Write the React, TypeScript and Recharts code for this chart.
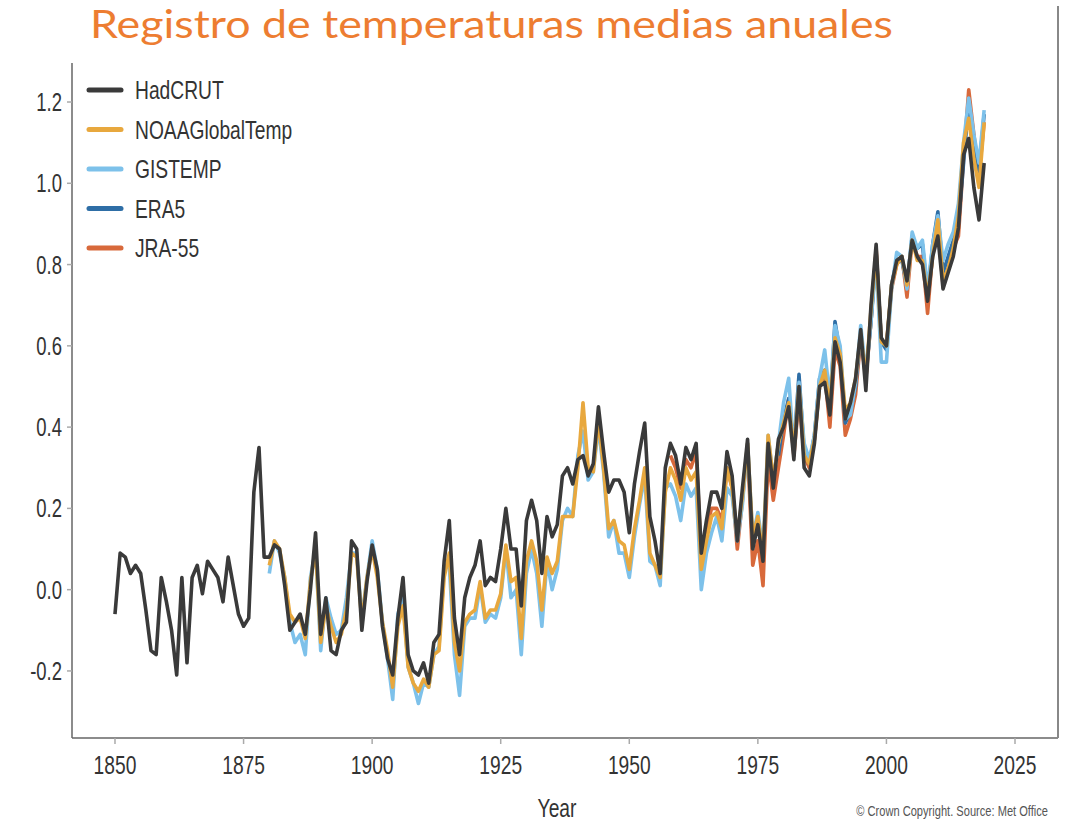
import React from 'react';
import { LineChart, Line, XAxis, YAxis } from 'recharts';

// Annual global mean temperature anomalies (°C, relative to 1850-1900)
const HADCRUT_START = 1850;
const HADCRUT = [
  -0.06, 0.09, 0.08, 0.04, 0.06, 0.04, -0.05, -0.15, -0.16, 0.03,
  -0.03, -0.10, -0.21, 0.03, -0.18, 0.03, 0.06, -0.01, 0.07, 0.05,
  0.03, -0.03, 0.08, 0.01, -0.06, -0.09, -0.07, 0.24, 0.35, 0.08,
  0.08, 0.11, 0.10, 0.01, -0.10, -0.08, -0.06, -0.11, 0.00, 0.14,
  -0.11, -0.02, -0.15, -0.16, -0.10, -0.08, 0.12, 0.10, -0.10, 0.02,
  0.11, 0.05, -0.09, -0.17, -0.21, -0.07, 0.03, -0.16, -0.20, -0.21,
  -0.18, -0.23, -0.13, -0.11, 0.07, 0.17, -0.07, -0.16, -0.02, 0.03,
  0.06, 0.12, 0.01, 0.03, 0.02, 0.10, 0.20, 0.10, 0.10, -0.04,
  0.17, 0.22, 0.17, 0.04, 0.18, 0.13, 0.16, 0.28, 0.30, 0.26,
  0.32, 0.33, 0.28, 0.31, 0.45, 0.34, 0.24, 0.27, 0.27, 0.24,
  0.14, 0.26, 0.34, 0.41, 0.18, 0.12, 0.04, 0.30, 0.36, 0.33,
  0.26, 0.35, 0.32, 0.36, 0.09, 0.17, 0.24, 0.24, 0.20, 0.34,
  0.28, 0.12, 0.25, 0.37, 0.10, 0.16, 0.07, 0.36, 0.25, 0.37,
  0.40, 0.45, 0.32, 0.50, 0.30, 0.28, 0.36, 0.50, 0.51, 0.43,
  0.61, 0.56, 0.42, 0.46, 0.52, 0.64, 0.49, 0.70, 0.85, 0.62,
  0.60, 0.75, 0.81, 0.82, 0.76, 0.86, 0.82, 0.80, 0.71, 0.82,
  0.87, 0.74, 0.78, 0.82, 0.89, 1.07, 1.11, 0.99, 0.91, 1.05,
];

const NOAA_START = 1880;
const NOAA = [
  0.06, 0.12, 0.10, 0.03, -0.06, -0.08, -0.07, -0.12, 0.02, 0.10,
  -0.13, -0.04, -0.09, -0.13, -0.11, -0.05, 0.09, 0.08, -0.08, 0.03,
  0.10, 0.03, -0.08, -0.15, -0.24, -0.09, -0.04, -0.19, -0.23, -0.25,
  -0.22, -0.24, -0.16, -0.15, 0.03, 0.09, -0.13, -0.20, -0.08, -0.06,
  -0.05, 0.02, -0.07, -0.05, -0.05, -0.01, 0.11, 0.02, 0.03, -0.12,
  0.07, 0.12, 0.07, -0.05, 0.08, 0.04, 0.07, 0.18, 0.18, 0.18,
  0.30, 0.46, 0.30, 0.29, 0.42, 0.30, 0.15, 0.17, 0.12, 0.11,
  0.05, 0.15, 0.22, 0.30, 0.09, 0.06, 0.03, 0.24, 0.30, 0.27,
  0.22, 0.30, 0.27, 0.29, 0.05, 0.12, 0.18, 0.19, 0.15, 0.30,
  0.25, 0.13, 0.23, 0.36, 0.13, 0.18, 0.08, 0.38, 0.27, 0.36,
  0.41, 0.46, 0.34, 0.50, 0.33, 0.31, 0.37, 0.50, 0.54, 0.45,
  0.62, 0.58, 0.44, 0.46, 0.52, 0.63, 0.52, 0.69, 0.83, 0.61,
  0.60, 0.75, 0.80, 0.82, 0.75, 0.86, 0.81, 0.81, 0.72, 0.82,
  0.91, 0.76, 0.79, 0.84, 0.92, 1.10, 1.16, 1.06, 0.99, 1.15,
];

const GISTEMP_START = 1880;
const GISTEMP = [
  0.04, 0.12, 0.09, 0.03, -0.08, -0.13, -0.11, -0.16, 0.03, 0.10,
  -0.15, -0.02, -0.07, -0.11, -0.10, -0.02, 0.09, 0.09, -0.07, 0.03,
  0.12, 0.05, -0.08, -0.17, -0.27, -0.06, -0.02, -0.19, -0.23, -0.28,
  -0.23, -0.24, -0.16, -0.14, 0.05, 0.06, -0.16, -0.26, -0.09, -0.07,
  -0.07, 0.01, -0.08, -0.06, -0.07, -0.02, 0.10, -0.02, 0.00, -0.16,
  0.04, 0.10, 0.04, -0.09, 0.07, 0.00, 0.05, 0.17, 0.20, 0.18,
  0.33, 0.39, 0.27, 0.29, 0.40, 0.29, 0.13, 0.17, 0.09, 0.09,
  0.03, 0.13, 0.21, 0.28, 0.07, 0.06, 0.01, 0.25, 0.26, 0.23,
  0.17, 0.26, 0.23, 0.25, 0.00, 0.09, 0.14, 0.18, 0.12, 0.25,
  0.23, 0.12, 0.21, 0.36, 0.13, 0.19, 0.10, 0.38, 0.27, 0.36,
  0.46, 0.52, 0.34, 0.51, 0.36, 0.32, 0.38, 0.52, 0.59, 0.47,
  0.65, 0.60, 0.42, 0.43, 0.51, 0.65, 0.53, 0.66, 0.81, 0.56,
  0.56, 0.74, 0.83, 0.82, 0.74, 0.88, 0.84, 0.86, 0.74, 0.85,
  0.92, 0.81, 0.85, 0.88, 0.95, 1.10, 1.21, 1.12, 1.05, 1.18,
];

const ERA5_START = 1979;
const ERA5 = [
  0.33, 0.42, 0.47, 0.35, 0.53, 0.34, 0.31, 0.38, 0.52, 0.54,
  0.44, 0.66, 0.58, 0.41, 0.44, 0.50, 0.63, 0.53, 0.66, 0.83,
  0.61, 0.59, 0.75, 0.81, 0.81, 0.75, 0.87, 0.84, 0.85, 0.72,
  0.85, 0.93, 0.78, 0.82, 0.86, 0.90, 1.05, 1.20, 1.10, 1.03,
  1.17,
];

const JRA55_START = 1958;
const JRA55 = [
  0.33, 0.30, 0.25, 0.32, 0.30, 0.34, 0.08, 0.15, 0.20, 0.20,
  0.17, 0.30, 0.25, 0.10, 0.22, 0.35, 0.06, 0.12, 0.01, 0.32,
  0.22, 0.30, 0.38, 0.47, 0.33, 0.47, 0.33, 0.30, 0.37, 0.50,
  0.53, 0.40, 0.59, 0.55, 0.38, 0.42, 0.48, 0.62, 0.52, 0.66,
  0.84, 0.61, 0.60, 0.74, 0.80, 0.82, 0.72, 0.86, 0.82, 0.82,
  0.68, 0.83, 0.89, 0.75, 0.79, 0.84, 0.87, 1.06, 1.23, 1.12,
  1.02, 1.15,
];

const X_TICKS = [1850, 1875, 1900, 1925, 1950, 1975, 2000, 2025];
const Y_TICKS = [-0.2, 0.0, 0.2, 0.4, 0.6, 0.8, 1.0, 1.2];

const SERIES = [
  { name: 'HadCRUT', color: '#3a3a3a', values: HADCRUT, start: HADCRUT_START },
  { name: 'NOAAGlobalTemp', color: '#E8A83E', values: NOAA, start: NOAA_START },
  { name: 'GISTEMP', color: '#7DC1EA', values: GISTEMP, start: GISTEMP_START },
  { name: 'ERA5', color: '#2E6EA6', values: ERA5, start: ERA5_START },
  { name: 'JRA-55', color: '#D8693B', values: JRA55, start: JRA55_START },
];

const TITLE = 'Registro de temperaturas medias anuales';
const X_LABEL = 'Year';
const CREDIT = '© Crown Copyright. Source: Met Office';

const rows: any[] = HADCRUT.map((v, i) => {
  const year = HADCRUT_START + i;
  const row: any = { year };
  SERIES.forEach((s) => {
    const idx = year - s.start;
    row[s.name] = idx >= 0 && idx < s.values.length ? s.values[idx] : null;
  });
  return row;
});

const FONT = '"Liberation Sans", Arial, sans-serif';
const SQUEEZE = 0.74;

const XTick = (props: any) => {
  const { x, y, payload } = props;
  return (
    <text
      transform={`translate(${x},${y}) scale(${SQUEEZE},1)`}
      textAnchor="middle"
      dy="0.71em"
      fill="#333"
      fontSize={26}
      fontFamily={FONT}
    >
      {payload.value}
    </text>
  );
};

const YTick = (props: any) => {
  const { x, y, payload } = props;
  return (
    <text
      transform={`translate(${x},${y}) scale(${SQUEEZE},1)`}
      textAnchor="end"
      dy="0.36em"
      fill="#333"
      fontSize={25}
      fontFamily={FONT}
    >
      {Number(payload.value).toFixed(1)}
    </text>
  );
};

export default function App() {
  const drawOrder = [...SERIES].reverse();
  return (
    <div style={{ position: 'absolute', left: 0, top: 0, width: 1068, height: 824, background: '#fff', overflow: 'hidden' }}>
      <LineChart
        width={1068}
        height={824}
        data={rows}
        margin={{ top: 63, right: 10, bottom: 36, left: 0 }}
      >
        <XAxis
          dataKey="year"
          type="number"
          domain={[1841.64, 2033.36]}
          ticks={X_TICKS}
          allowDataOverflow
          height={50}
          axisLine={{ stroke: '#666', strokeWidth: 1.5 }}
          tickLine={{ stroke: '#aaa', strokeWidth: 1.5 }}
          tickSize={6}
          tickMargin={12}
          tick={<XTick />}
        />
        <YAxis
          type="number"
          domain={[-0.365, 1.296]}
          ticks={Y_TICKS}
          allowDataOverflow
          width={72}
          axisLine={{ stroke: '#666', strokeWidth: 1.5 }}
          tickLine={{ stroke: '#aaa', strokeWidth: 1.5 }}
          tickSize={5}
          tickMargin={5}
          tick={<YTick />}
        />
        {drawOrder.map((s) => (
          <Line
            key={s.name}
            dataKey={s.name}
            name={s.name}
            stroke={s.color}
            strokeWidth={3.6}
            dot={false}
            activeDot={false}
            type="linear"
            strokeLinejoin="round"
            isAnimationActive={false}
          />
        ))}
      </LineChart>
      <svg
        width={1068}
        height={824}
        style={{ position: 'absolute', left: 0, top: 0, pointerEvents: 'none' }}
      >
        <text
          x={90}
          y={38}
          fill="#ED7D31"
          fontSize={38}
          fontFamily='Lato, "Open Sans", sans-serif'
          textLength={803}
          lengthAdjust="spacingAndGlyphs"
        >
          {TITLE}
        </text>
        <line x1={1058} y1={6} x2={1058} y2={738} stroke="#888" strokeWidth={2} />
        {SERIES.map((s, i) => (
          <g key={s.name}>
            <line
              x1={89}
              x2={121}
              y1={90 + i * 39.5}
              y2={90 + i * 39.5}
              stroke={s.color}
              strokeWidth={5}
              strokeLinecap="round"
            />
            <text
              transform={`translate(135,${90 + i * 39.5}) scale(${SQUEEZE},1)`}
              dy="0.36em"
              fill="#333"
              fontSize={26}
              fontFamily={FONT}
            >
              {s.name}
            </text>
          </g>
        ))}
        <text
          transform={`translate(557,817) scale(${SQUEEZE},1)`}
          textAnchor="middle"
          fill="#333"
          fontSize={26}
          fontFamily={FONT}
        >
          {X_LABEL}
        </text>
        <text
          transform={`translate(1048,816) scale(${SQUEEZE},1)`}
          textAnchor="end"
          fill="#555"
          fontSize={15}
          fontFamily={FONT}
        >
          {CREDIT}
        </text>
      </svg>
    </div>
  );
}
